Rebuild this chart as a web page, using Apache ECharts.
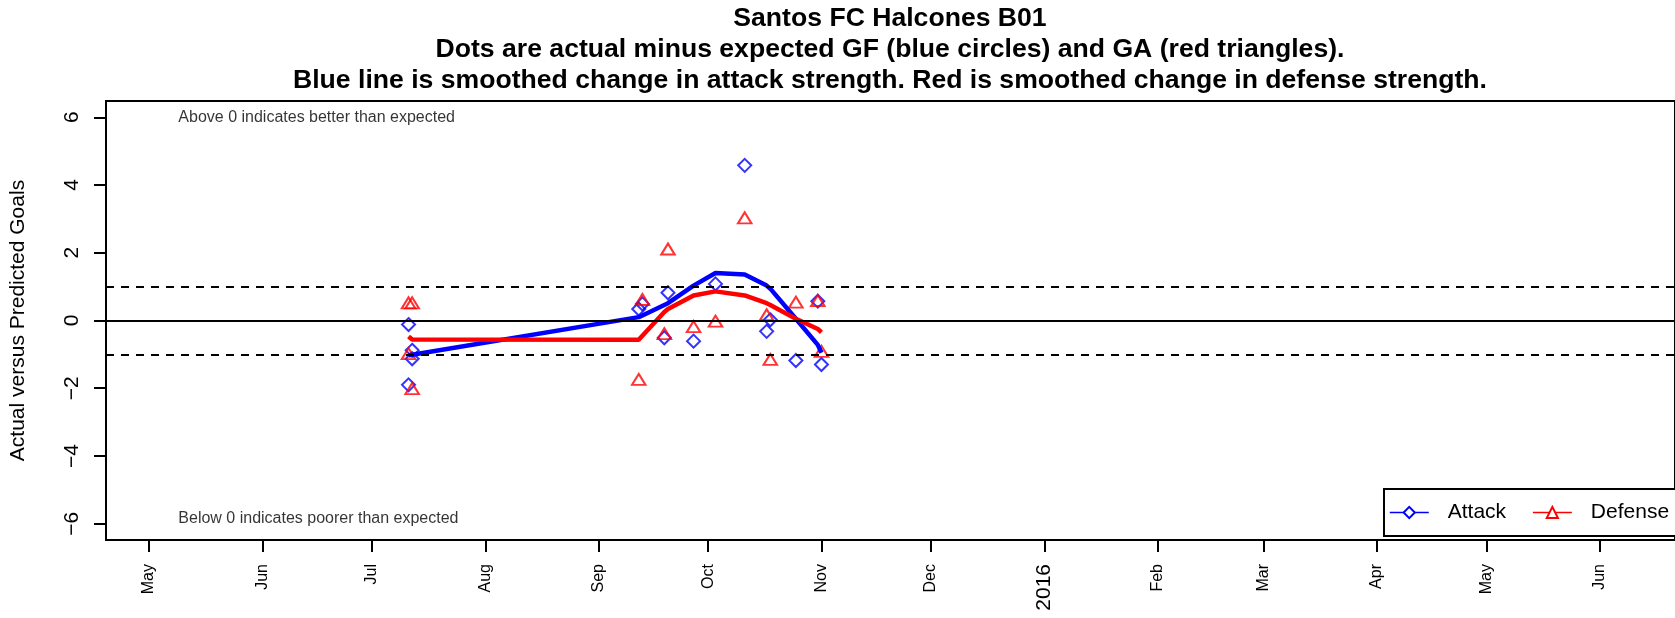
<!DOCTYPE html>
<html>
<head>
<meta charset="utf-8">
<title>Santos FC Halcones B01</title>
<script src="https://cdn.jsdelivr.net/npm/echarts@6/dist/echarts.min.js"></script>
<style>
  html, body { margin: 0; padding: 0; background: #fff; }
  #chart { width: 1675px; height: 618px; }
</style>
</head>
<body>
<div id="chart"></div>
<script>
// game dates (one entry per match)
const gameDates = [
  '2015-07-11', '2015-07-11', '2015-07-12', '2015-07-12',
  '2015-09-12', '2015-09-13', '2015-09-19', '2015-09-20',
  '2015-09-27', '2015-10-03', '2015-10-11', '2015-10-17',
  '2015-10-18', '2015-10-25', '2015-10-31', '2015-11-01'
];
// actual minus expected goals for / against
const attackDiff = [-0.12, -1.90, -0.88, -1.13, 0.34, 0.49, -0.51, 0.82,
  -0.61, 1.08, 4.58, -0.32, 0.02, -1.18, 0.57, -1.30];
const defenseDiff = [0.52, -0.98, 0.52, -2.01, -1.74, 0.62, -0.39, 2.11,
  -0.18, -0.02, 3.03, 0.17, -1.15, 0.54, 0.59, -0.91];
// smoothed change in strength
const attackSmooth = [-1.03, -1.03, -1.01, -1.01, 0.10, 0.15, 0.46, 0.51,
  1.03, 1.40, 1.36, 1.03, 0.94, 0.05, -0.72, -0.95];
const defenseSmooth = [-0.47, -0.47, -0.56, -0.56, -0.57, -0.45, 0.25, 0.34,
  0.74, 0.86, 0.74, 0.51, 0.46, 0.05, -0.25, -0.35];

const monthTicks = ['2015-05-01', '2015-06-01', '2015-07-01', '2015-08-01',
  '2015-09-01', '2015-10-01', '2015-11-01', '2015-12-01', '2016-01-01',
  '2016-02-01', '2016-03-01', '2016-04-01', '2016-05-01', '2016-06-01'];
const monthLabels = ['May', 'Jun', 'Jul', 'Aug', 'Sep', 'Oct', 'Nov', 'Dec',
  '2016', 'Feb', 'Mar', 'Apr', 'May', 'Jun'];
const yTicks = [-6, -4, -2, 0, 2, 4, 6];
const refLevels = [-1, 0, 1];

const notes = [
  { text: 'Above 0 indicates better than expected', date: '2015-05-09', y: 6 },
  { text: 'Below 0 indicates poorer than expected', date: '2015-05-09', y: -5.86 }
];

const FONT = '"Liberation Sans", Arial, Helvetica, sans-serif';
const BLUE = '#0000FF';
const RED = '#FF0000';

const toTime = (s) => {
  const p = s.split('-').map(Number);
  return Date.UTC(p[0], p[1] - 1, p[2]);
};
const tickTimes = monthTicks.map(toTime);
const pairs = (vals) => gameDates.map((d, i) => [toTime(d), vals[i]]);

const chart = echarts.init(document.getElementById('chart'));
chart.setOption({
  animation: false,
  backgroundColor: '#fff',
  textStyle: { fontFamily: FONT, color: '#000' },
  title: {
    text: 'Santos FC Halcones B01\nDots are actual minus expected GF (blue circles) and GA (red triangles).\nBlue line is smoothed change in attack strength. Red is smoothed change in defense strength.',
    left: 890,
    top: 3,
    padding: 0,
    textAlign: 'center',
    textStyle: { fontFamily: FONT, fontSize: 26.6, fontWeight: 'bold', lineHeight: 31, color: '#000' }
  },
  legend: {
    data: ['Attack', 'Defense'],
    orient: 'horizontal',
    left: 1384,
    top: 489,
    width: 400,
    padding: [13, 40, 13, 5],
    itemWidth: 39,
    itemHeight: 14,
    itemGap: 26,
    backgroundColor: '#fff',
    borderColor: '#000',
    borderWidth: 2,
    borderRadius: 0,
    lineStyle: { width: 1.5 },
    formatter: (n) => '{g|}' + n,
    textStyle: {
      fontFamily: FONT, fontSize: 21, color: '#000',
      rich: { g: { width: 14 } }
    }
  },
  grid: { left: 106, right: -4, top: 101, bottom: 78, show: true, borderColor: '#000', borderWidth: 2 },
  xAxis: {
    type: 'value',
    min: Date.UTC(2015, 3, 19, 5),
    max: Date.UTC(2016, 5, 21, 14),
    axisLine: { show: false, onZero: false },
    splitLine: { show: false },
    axisTick: { show: true, customValues: tickTimes, length: 12, lineStyle: { color: '#000', width: 2 } },
    axisLabel: {
      customValues: tickTimes,
      rotate: 90,
      margin: 24,
      fontSize: 16,
      color: '#000',
      fontFamily: FONT,
      formatter: (v) => {
        const i = tickTimes.indexOf(v);
        const s = i >= 0 ? monthLabels[i] : '';
        return /^\d{4}$/.test(s) ? '{y|' + s + '}' : s;
      },
      rich: { y: { fontSize: 21, color: '#000', fontFamily: FONT } }
    }
  },
  yAxis: {
    type: 'value',
    min: -6.48,
    max: 6.48,
    name: 'Actual versus Predicted Goals',
    nameLocation: 'middle',
    nameGap: 77,
    nameRotate: 90,
    nameTextStyle: { fontSize: 21, color: '#000', fontFamily: FONT },
    axisLine: { show: false, onZero: false },
    splitLine: { show: false },
    axisTick: { show: true, customValues: yTicks, length: 12, lineStyle: { color: '#000', width: 2 } },
    axisLabel: {
      customValues: yTicks,
      rotate: 90,
      margin: 23,
      fontSize: 21,
      color: '#000',
      fontFamily: FONT,
      formatter: (v) => (v < 0 ? '\u2212' + Math.abs(v) : String(v))
    }
  },
  series: [
    {
      name: 'GF diff',
      type: 'scatter',
      data: pairs(attackDiff),
      symbol: 'diamond',
      symbolSize: 13,
      itemStyle: { color: 'rgba(0,0,0,0)', borderColor: BLUE, borderWidth: 2 },
      markLine: {
        silent: true,
        symbol: ['none', 'none'],
        label: { show: false },
        data: refLevels.map((v) => ({
          yAxis: v,
          lineStyle: { color: '#000', width: 2, type: v === 0 ? 'solid' : [8, 7] }
        }))
      },
      z: 2
    },
    {
      name: 'GA diff',
      type: 'scatter',
      data: pairs(defenseDiff),
      symbol: 'triangle',
      symbolSize: [13.5, 11],
      itemStyle: { color: 'rgba(0,0,0,0)', borderColor: RED, borderWidth: 2 },
      z: 2
    },
    {
      name: 'Attack',
      type: 'line',
      data: pairs(attackSmooth),
      symbol: 'emptyDiamond',
      showSymbol: false,
      color: BLUE,
      lineStyle: { color: BLUE, width: 4.5 },
      z: 3
    },
    {
      name: 'Defense',
      type: 'line',
      data: pairs(defenseSmooth),
      symbol: 'emptyTriangle',
      showSymbol: false,
      color: RED,
      lineStyle: { color: RED, width: 4.5 },
      z: 3
    },
    {
      name: 'notes',
      type: 'scatter',
      symbolSize: 0,
      silent: true,
      data: notes.map((n) => ({ value: [toTime(n.date), n.y], label: { formatter: n.text } })),
      label: {
        show: true,
        position: 'right',
        distance: 0,
        fontSize: 16,
        color: '#000',
        fontFamily: FONT
      }
    }
  ]
});
</script>
</body>
</html>
